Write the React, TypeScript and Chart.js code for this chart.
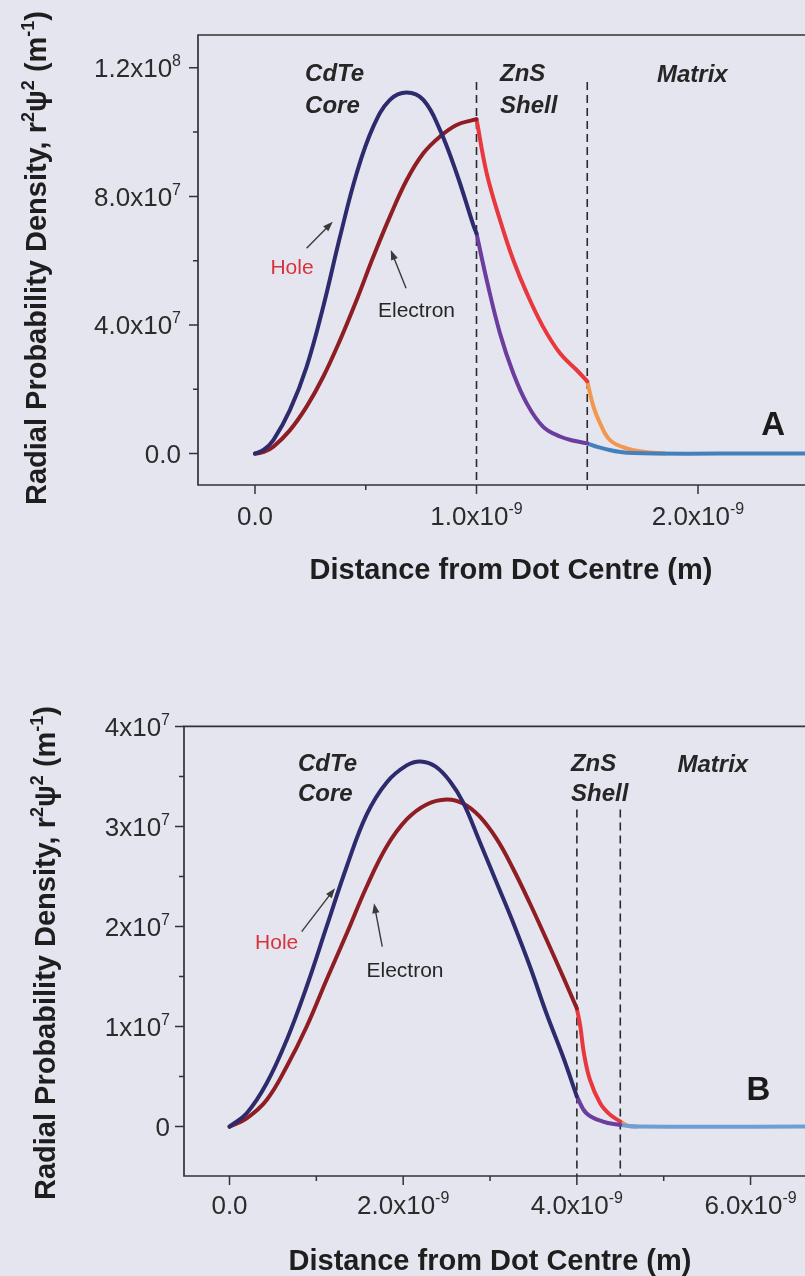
import React, { useEffect, useRef } from "react";
import { Chart, registerables } from "chart.js";

Chart.register(...registerables);

// ===== Panel A : distance in units of 1e-9 m, density in units of 1e7 m^-1 =====
const aHoleCore = [[0, 0], [0.04, 0.12], [0.083, 0.42], [0.158, 1.36], [0.233, 2.7], [0.308, 4.57], [0.384, 6.75], [0.459, 8.72], [0.534, 10.17], [0.609, 11.0], [0.685, 11.23], [0.76, 11.0], [0.835, 10.07], [0.91, 8.72], [0.986, 7.1], [1.0, 6.85]];
const aHoleShell = [[1.0, 6.85], [1.046, 5.4], [1.106, 3.74], [1.166, 2.5], [1.227, 1.56], [1.3, 0.84], [1.377, 0.53], [1.44, 0.4], [1.5, 0.32]];
const aHoleMatrix = [[1.5, 0.32], [1.55, 0.2], [1.6, 0.11], [1.65, 0.05], [1.71, 0.015], [1.8, 0], [2.1, 0], [2.6, 0]];
const aElecCore = [[0, 0], [0.04, 0.05], [0.083, 0.21], [0.158, 0.73], [0.233, 1.46], [0.308, 2.39], [0.384, 3.53], [0.459, 4.78], [0.534, 6.12], [0.609, 7.37], [0.685, 8.51], [0.76, 9.34], [0.835, 9.86], [0.91, 10.22], [0.986, 10.38], [1.0, 10.4]];
const aElecShell = [[1.0, 10.4], [1.046, 8.72], [1.106, 7.27], [1.166, 6.02], [1.227, 4.99], [1.3, 3.95], [1.377, 3.12], [1.452, 2.6], [1.5, 2.25]];
const aElecMatrix = [[1.5, 2.25], [1.528, 1.46], [1.558, 0.94], [1.603, 0.42], [1.678, 0.16], [1.752, 0.06], [1.85, 0]];
const aBoundaries = [1.0, 1.5];
const aXMajor = [0, 1, 2];
const aXMinor = [0.5, 1.5];
const aXLabels = ["0.0", "1.0x10", "2.0x10"];
const aXSups = ["", "-9", "-9"];
const aYMajor = [0, 4, 8, 12];
const aYMinor = [2, 6, 10];
const aYLabels = ["0.0", "4.0x10", "8.0x10", "1.2x10"];
const aYSups = ["", "7", "7", "8"];

// ===== Panel B =====
const bHoleCore = [[0, 0], [0.198, 0.133], [0.428, 0.433], [0.659, 0.866], [0.889, 1.4], [1.119, 2.0], [1.35, 2.6], [1.58, 3.12], [1.81, 3.44], [2.04, 3.61], [2.2, 3.65], [2.37, 3.6], [2.54, 3.45], [2.69, 3.24], [2.88, 2.85], [3.08, 2.43], [3.27, 2.03], [3.46, 1.6], [3.65, 1.13], [3.84, 0.7], [4.0, 0.3]];
const bHoleShell = [[4.0, 0.3], [4.11, 0.133], [4.3, 0.05], [4.5, 0.016]];
const bHoleMatrix = [[4.5, 0.016], [4.7, 0], [6.8, 0]];
const bElecCore = [[0, 0], [0.198, 0.083], [0.428, 0.266], [0.659, 0.6], [0.889, 1.0], [1.119, 1.47], [1.35, 1.93], [1.58, 2.4], [1.81, 2.8], [2.04, 3.07], [2.27, 3.22], [2.5, 3.27], [2.69, 3.23], [2.88, 3.1], [3.08, 2.87], [3.27, 2.57], [3.46, 2.23], [3.65, 1.87], [3.84, 1.5], [4.0, 1.18]];
const bElecShell = [[4.0, 1.18], [4.04, 1.0], [4.08, 0.74], [4.15, 0.47], [4.27, 0.23], [4.38, 0.12], [4.5, 0.05]];
const bElecMatrix = [[4.5, 0.05], [4.58, 0.01], [4.7, 0]];
const bBoundaries = [4.0, 4.5];
const bXMajor = [0, 2, 4, 6];
const bXMinor = [1, 3, 5];
const bXLabels = ["0.0", "2.0x10", "4.0x10", "6.0x10"];
const bXSups = ["", "-9", "-9", "-9"];
const bYMajor = [0, 1, 2, 3, 4];
const bYMinor = [0.5, 1.5, 2.5, 3.5];
const bYLabels = ["0", "1x10", "2x10", "3x10", "4x10"];
const bYSups = ["", "7", "7", "7", "7"];

const FONT = '"Liberation Sans", Arial, Helvetica, sans-serif';
const BG = "#e5e5ef";

type Part = { t: string; sup?: boolean };

function drawRich(ctx: CanvasRenderingContext2D, parts: Part[], x: number, y: number, size: number, supSize: number, weight: string, align: string, color: string) {
  const base = `${weight} ${size}px ${FONT}`;
  const sup = `${weight} ${supSize}px ${FONT}`;
  const widths = parts.map((p) => {
    ctx.font = p.sup ? sup : base;
    return ctx.measureText(p.t).width;
  });
  const total = widths.reduce((a, b) => a + b, 0);
  let cx = align === "left" ? x : align === "right" ? x - total : x - total / 2;
  ctx.fillStyle = color;
  ctx.textBaseline = "alphabetic";
  ctx.textAlign = "left";
  parts.forEach((p, i) => {
    ctx.font = p.sup ? sup : base;
    ctx.fillText(p.t, cx, p.sup ? y - size * 0.42 : y);
    cx += widths[i];
  });
}

function drawArrow(ctx: CanvasRenderingContext2D, x1: number, y1: number, x2: number, y2: number) {
  const ang = Math.atan2(y2 - y1, x2 - x1);
  ctx.strokeStyle = "#3a3a3a";
  ctx.fillStyle = "#3a3a3a";
  ctx.lineWidth = 1.4;
  ctx.beginPath();
  ctx.moveTo(x1, y1);
  ctx.lineTo(x2 - Math.cos(ang) * 6, y2 - Math.sin(ang) * 6);
  ctx.stroke();
  const L = 10, W = 3.6;
  ctx.beginPath();
  ctx.moveTo(x2, y2);
  ctx.lineTo(x2 - L * Math.cos(ang) + W * Math.sin(ang), y2 - L * Math.sin(ang) - W * Math.cos(ang));
  ctx.lineTo(x2 - L * Math.cos(ang) - W * Math.sin(ang), y2 - L * Math.sin(ang) + W * Math.cos(ang));
  ctx.closePath();
  ctx.fill();
}

type Spec = {
  width: number; height: number;
  padding: { left: number; top: number; right: number; bottom: number };
  xMin: number; xMax: number; yMin: number; yMax: number;
  segments: { data: number[][]; color: string }[];
  boundaries: number[]; dashTop: number;
  xMajor: number[]; xMinor: number[]; xLabels: string[]; xSups: string[];
  yMajor: number[]; yMinor: number[]; yLabels: string[]; ySups: string[];
  yLabelGap: number; xLabelOffset: number;
  region: { text: string; x: number; y: number }[];
  hole: { x: number; y: number }; electron: { x: number; y: number };
  holeArrow: number[]; elecArrow: number[];
  letter: { text: string; x: number; y: number };
  yTitle: { x: number; y: number }; xTitle: { x: number; y: number };
};

const panelA: Spec = {
  width: 805, height: 600,
  padding: { left: 198, top: 35, right: 0, bottom: 115 },
  xMin: -0.2573, xMax: 2.483, yMin: -0.977, yMax: 13.02,
  segments: [
    { data: aHoleCore, color: "#2d2b6e" },
    { data: aHoleShell, color: "#6a3d9e" },
    { data: aHoleMatrix, color: "#4480bd" },
    { data: aElecCore, color: "#8f1d24" },
    { data: aElecShell, color: "#e8383d" },
    { data: aElecMatrix, color: "#f2974e" },
  ],
  boundaries: aBoundaries, dashTop: 11.56,
  xMajor: aXMajor, xMinor: aXMinor, xLabels: aXLabels, xSups: aXSups,
  yMajor: aYMajor, yMinor: aYMinor, yLabels: aYLabels, ySups: aYSups,
  yLabelGap: 17, xLabelOffset: 31,
  region: [
    { text: "CdTe", x: 0.226, y: 11.87 }, { text: "Core", x: 0.226, y: 10.87 },
    { text: "ZnS", x: 1.106, y: 11.87 }, { text: "Shell", x: 1.106, y: 10.87 },
    { text: "Matrix", x: 1.815, y: 11.84 },
  ],
  hole: { x: 0.167, y: 5.835 }, electron: { x: 0.729, y: 4.47 },
  holeArrow: [0.233, 6.386, 0.351, 7.213], elecArrow: [0.682, 5.142, 0.613, 6.333],
  letter: { text: "A", x: 2.339, y: 0.95 },
  yTitle: { x: 36, y: 258 }, xTitle: { x: 511, y: 569 },
};

const panelB: Spec = {
  width: 805, height: 656,
  padding: { left: 184, top: 106.4, right: 0, bottom: 100 },
  xMin: -0.524, xMax: 6.627, yMin: -0.494, yMax: 4.0,
  segments: [
    { data: bHoleCore, color: "#2d2b6e" },
    { data: bHoleShell, color: "#6a3d9e" },
    { data: bHoleMatrix, color: "#6c9fd6" },
    { data: bElecCore, color: "#8f1d24" },
    { data: bElecShell, color: "#e8383d" },
    { data: bElecMatrix, color: "#f2974e" },
  ],
  boundaries: bBoundaries, dashTop: 3.17,
  xMajor: bXMajor, xMinor: bXMinor, xLabels: bXLabels, xSups: bXSups,
  yMajor: bYMajor, yMinor: bYMinor, yLabels: bYLabels, ySups: bYSups,
  yLabelGap: 14, xLabelOffset: 28.5,
  region: [
    { text: "CdTe", x: 0.789, y: 3.636 }, { text: "Core", x: 0.789, y: 3.336 },
    { text: "ZnS", x: 3.932, y: 3.636 }, { text: "Shell", x: 3.932, y: 3.336 },
    { text: "Matrix", x: 5.159, y: 3.63 },
  ],
  hole: { x: 0.543, y: 1.849 }, electron: { x: 2.021, y: 1.571 },
  holeArrow: [0.831, 1.949, 1.215, 2.383], elecArrow: [1.759, 1.799, 1.664, 2.233],
  letter: { text: "B", x: 6.091, y: 0.381 },
  yTitle: { x: 45, y: 333 }, xTitle: { x: 490, y: 640 },
};

function makeConfig(spec: Spec): any {
  const datasets: any[] = spec.segments.map((s) => ({
    data: s.data.map((p) => ({ x: p[0], y: p[1] })),
    borderColor: s.color,
    borderWidth: 4,
    showLine: true,
    pointRadius: 0,
    tension: 0.4,
    borderCapStyle: "round",
    borderJoinStyle: "round",
  }));
  spec.boundaries.forEach((b) => {
    datasets.push({
      data: [{ x: b, y: spec.dashTop }, { x: b, y: spec.yMin }],
      borderColor: "#2a2a2a",
      borderWidth: 1.6,
      borderDash: [8, 5],
      showLine: true,
      pointRadius: 0,
      tension: 0,
    });
  });

  const decor = {
    id: "decor",
    afterDraw(chart: any) {
      const ctx: CanvasRenderingContext2D = chart.ctx;
      const xs = chart.scales.x;
      const ys = chart.scales.y;
      const a = chart.chartArea;
      ctx.save();
      // frame
      ctx.strokeStyle = "#333";
      ctx.lineWidth = 1.7;
      ctx.beginPath();
      ctx.moveTo(chart.width + 5, a.top);
      ctx.lineTo(a.left, a.top);
      ctx.lineTo(a.left, a.bottom);
      ctx.lineTo(chart.width + 5, a.bottom);
      ctx.stroke();
      // ticks
      ctx.lineWidth = 1.5;
      ctx.beginPath();
      spec.yMajor.forEach((v) => { const p = ys.getPixelForValue(v); ctx.moveTo(a.left - 9, p); ctx.lineTo(a.left, p); });
      spec.yMinor.forEach((v) => { const p = ys.getPixelForValue(v); ctx.moveTo(a.left - 5, p); ctx.lineTo(a.left, p); });
      spec.xMajor.forEach((v) => { const p = xs.getPixelForValue(v); ctx.moveTo(p, a.bottom); ctx.lineTo(p, a.bottom + 9); });
      spec.xMinor.forEach((v) => { const p = xs.getPixelForValue(v); ctx.moveTo(p, a.bottom); ctx.lineTo(p, a.bottom + 5); });
      ctx.stroke();
      // tick labels
      const TS = 26, SS = 16;
      spec.yMajor.forEach((v, i) => {
        const p = ys.getPixelForValue(v);
        const parts: Part[] = [{ t: spec.yLabels[i] }];
        if (spec.ySups[i]) parts.push({ t: spec.ySups[i], sup: true });
        drawRich(ctx, parts, a.left - spec.yLabelGap, p + TS * 0.36, TS, SS, "normal", "right", "#2b2b2b");
      });
      spec.xMajor.forEach((v, i) => {
        const p = xs.getPixelForValue(v);
        const parts: Part[] = [{ t: spec.xLabels[i] }];
        if (spec.xSups[i]) parts.push({ t: spec.xSups[i], sup: true });
        drawRich(ctx, parts, p, a.bottom + spec.xLabelOffset + TS * 0.36, TS, SS, "normal", "center", "#2b2b2b");
      });
      // axis titles
      drawRich(ctx, [{ t: "Distance from Dot Centre (m)" }], spec.xTitle.x, spec.xTitle.y + 29 * 0.36, 29, 18, "bold", "center", "#1e1e1e");
      ctx.save();
      ctx.translate(spec.yTitle.x, spec.yTitle.y);
      ctx.rotate(-Math.PI / 2);
      drawRich(ctx, [
        { t: "Radial Probability Density, r" }, { t: "2", sup: true },
        { t: "\u03c8" }, { t: "2", sup: true },
        { t: " (m" }, { t: "-1", sup: true }, { t: ")" },
      ], 0, 29 * 0.36, 29, 18, "bold", "center", "#1e1e1e");
      ctx.restore();
      // region labels
      spec.region.forEach((r) => {
        drawRich(ctx, [{ t: r.text }], xs.getPixelForValue(r.x), ys.getPixelForValue(r.y) + 24 * 0.36, 24, 14, "italic bold", "left", "#262626");
      });
      // hole / electron labels
      drawRich(ctx, [{ t: "Hole" }], xs.getPixelForValue(spec.hole.x), ys.getPixelForValue(spec.hole.y) + 21 * 0.36, 21, 12, "normal", "center", "#d8323c");
      drawRich(ctx, [{ t: "Electron" }], xs.getPixelForValue(spec.electron.x), ys.getPixelForValue(spec.electron.y) + 21 * 0.36, 21, 12, "normal", "center", "#262626");
      const ha = spec.holeArrow, ea = spec.elecArrow;
      drawArrow(ctx, xs.getPixelForValue(ha[0]), ys.getPixelForValue(ha[1]), xs.getPixelForValue(ha[2]), ys.getPixelForValue(ha[3]));
      drawArrow(ctx, xs.getPixelForValue(ea[0]), ys.getPixelForValue(ea[1]), xs.getPixelForValue(ea[2]), ys.getPixelForValue(ea[3]));
      // panel letter
      drawRich(ctx, [{ t: spec.letter.text }], xs.getPixelForValue(spec.letter.x), ys.getPixelForValue(spec.letter.y) + 33 * 0.36, 33, 18, "bold", "center", "#1a1a1a");
      ctx.restore();
    },
  };

  return {
    type: "scatter",
    data: { datasets },
    options: {
      animation: false,
      responsive: false,
      devicePixelRatio: 1,
      layout: { padding: spec.padding },
      plugins: { legend: { display: false }, tooltip: { enabled: false } },
      events: [],
      scales: {
        x: { type: "linear", display: false, min: spec.xMin, max: spec.xMax },
        y: { type: "linear", display: false, min: spec.yMin, max: spec.yMax },
      },
    },
    plugins: [decor],
  };
}

function Panel({ spec, top }: { spec: Spec; top: number }) {
  const ref = useRef<HTMLCanvasElement | null>(null);
  useEffect(() => {
    if (!ref.current) return;
    const chart = new Chart(ref.current, makeConfig(spec));
    return () => chart.destroy();
  }, [spec]);
  return (
    <canvas
      ref={ref}
      width={spec.width}
      height={spec.height}
      style={{ position: "absolute", left: 0, top, width: spec.width, height: spec.height, display: "block" }}
    />
  );
}

export default function App() {
  return (
    <div style={{ position: "fixed", left: 0, top: 0, width: 805, height: 1276, background: BG, overflow: "hidden" }}>
      <Panel spec={panelA} top={0} />
      <Panel spec={panelB} top={620} />
    </div>
  );
}
